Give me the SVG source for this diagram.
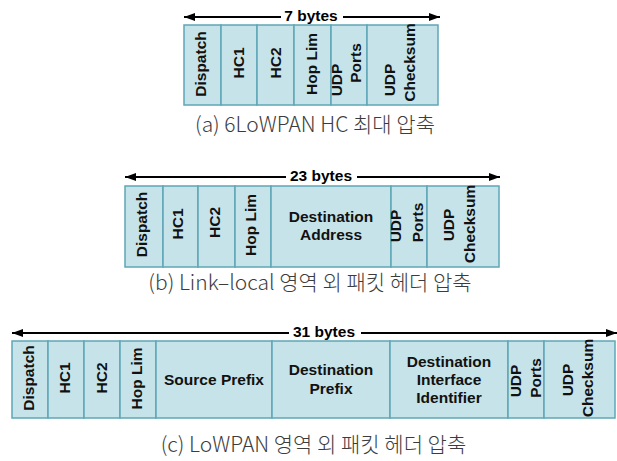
<svg xmlns="http://www.w3.org/2000/svg" width="617" height="461" viewBox="0 0 617 461">
  <style>
    .cell { fill: #c5e3e9; stroke: #5ea7b7; stroke-width: 1.5; }
    .lbl { font-family: "Liberation Sans", Arial, sans-serif; font-weight: bold; font-size: 15.5px; fill: #111; }
    .mid { text-anchor: middle; }
    .dim { stroke: #000; stroke-width: 2; fill: none; marker-end: url(#head); }
    .bytes { font-family: "Liberation Sans", Arial, sans-serif; font-weight: bold; font-size: 15.5px; fill: #000; text-anchor: middle; }
    .cap { font-family: "Noto Sans CJK KR", "Noto Sans", sans-serif; font-weight: 300; font-size: 21px; fill: #3c3c3c; text-anchor: middle; }
  </style>
  <defs>
    <marker id="head" viewBox="0 0 11 8" refX="11" refY="4" markerWidth="11" markerHeight="8" markerUnits="userSpaceOnUse" orient="auto">
      <path d="M0,0 L11,4 L0,8 Z" fill="#000"/>
    </marker>
  </defs>

  <!-- size arrows -->
  <g id="connectors">
    <line class="dim" x1="281" y1="17" x2="184" y2="17"/>
    <line class="dim" x1="343" y1="17" x2="440" y2="17"/>
    <line class="dim" x1="286" y1="177" x2="125" y2="177"/>
    <line class="dim" x1="357" y1="177" x2="500" y2="177"/>
    <line class="dim" x1="289" y1="333" x2="12" y2="333"/>
    <line class="dim" x1="361" y1="333" x2="617" y2="333"/>
  </g>

  <!-- (a) 6LoWPAN HC -->
  <g id="hc-max">
    <text class="bytes" x="311" y="21">7 bytes</text>
    <g id="a-dispatch"><rect class="cell" x="184" y="25" width="37" height="80"/>
      <text class="lbl mid" transform="translate(201,64) rotate(-90)" y="5">Dispatch</text></g>
    <g id="a-hc1"><rect class="cell" x="221" y="25" width="36" height="80"/>
      <text class="lbl mid" transform="translate(239,63) rotate(-90)" y="5">HC1</text></g>
    <g id="a-hc2"><rect class="cell" x="257" y="25" width="37" height="80"/>
      <text class="lbl mid" transform="translate(275.5,63) rotate(-90)" y="5">HC2</text></g>
    <g id="a-hoplim"><rect class="cell" x="294" y="25" width="37" height="80"/>
      <text class="lbl mid" transform="translate(311.5,64) rotate(-90)" y="5">Hop Lim</text></g>
    <g id="a-udp-ports"><rect class="cell" x="331" y="25" width="36" height="80"/>
      <text class="lbl mid" transform="translate(337,80) rotate(-90)" y="5">UDP</text>
      <text class="lbl mid" transform="translate(356,63) rotate(-90)" y="5">Ports</text></g>
    <g id="a-udp-checksum"><rect class="cell" x="367" y="25" width="71" height="80"/>
      <text class="lbl mid" transform="translate(390,80) rotate(-90)" y="5">UDP</text>
      <text class="lbl mid" transform="translate(410,62.5) rotate(-90)" y="5">Checksum</text></g>
    <text class="cap" x="315" y="132">(a) 6LoWPAN HC 최대 압축</text>
  </g>

  <!-- (b) link-local -->
  <g id="link-local">
    <text class="bytes" x="321" y="181">23 bytes</text>
    <g id="b-dispatch"><rect class="cell" x="125" y="186" width="38" height="81"/>
      <text class="lbl mid" transform="translate(142,224.5) rotate(-90)" y="5">Dispatch</text></g>
    <g id="b-hc1"><rect class="cell" x="163" y="186" width="35" height="81"/>
      <text class="lbl mid" transform="translate(178,224) rotate(-90)" y="5">HC1</text></g>
    <g id="b-hc2"><rect class="cell" x="198" y="186" width="37" height="81"/>
      <text class="lbl mid" transform="translate(215,222.5) rotate(-90)" y="5">HC2</text></g>
    <g id="b-hoplim"><rect class="cell" x="235" y="186" width="36" height="81"/>
      <text class="lbl mid" transform="translate(251,225) rotate(-90)" y="5">Hop Lim</text></g>
    <g id="b-dst-addr"><rect class="cell" x="271" y="186" width="120" height="81"/>
      <text class="lbl mid" x="331" y="222">Destination</text>
      <text class="lbl mid" x="331" y="239.5">Address</text></g>
    <g id="b-udp-ports"><rect class="cell" x="391" y="186" width="36" height="81"/>
      <text class="lbl mid" transform="translate(396,226) rotate(-90)" y="5">UDP</text>
      <text class="lbl mid" transform="translate(418,222.5) rotate(-90)" y="5">Ports</text></g>
    <g id="b-udp-checksum"><rect class="cell" x="427" y="186" width="72" height="81"/>
      <text class="lbl mid" transform="translate(449,225) rotate(-90)" y="5">UDP</text>
      <text class="lbl mid" transform="translate(470,224) rotate(-90)" y="5">Checksum</text></g>
    <text class="cap" x="310" y="290">(b) Link–local 영역 외 패킷 헤더 압축</text>
  </g>

  <!-- (c) LoWPAN external -->
  <g id="lowpan-ext">
    <text class="bytes" x="324" y="337">31 bytes</text>
    <g id="c-dispatch"><rect class="cell" x="12" y="341" width="36" height="77"/>
      <text class="lbl mid" transform="translate(29,378) rotate(-90)" y="5">Dispatch</text></g>
    <g id="c-hc1"><rect class="cell" x="48" y="341" width="36" height="77"/>
      <text class="lbl mid" transform="translate(65,378) rotate(-90)" y="5">HC1</text></g>
    <g id="c-hc2"><rect class="cell" x="84" y="341" width="36" height="77"/>
      <text class="lbl mid" transform="translate(102,378) rotate(-90)" y="5">HC2</text></g>
    <g id="c-hoplim"><rect class="cell" x="120" y="341" width="36" height="77"/>
      <text class="lbl mid" transform="translate(136.5,378.5) rotate(-90)" y="5">Hop Lim</text></g>
    <g id="c-src-prefix"><rect class="cell" x="156" y="341" width="116" height="77"/>
      <text class="lbl mid" x="214" y="385">Source Prefix</text></g>
    <g id="c-dst-prefix"><rect class="cell" x="272" y="341" width="118" height="77"/>
      <text class="lbl mid" x="331" y="375">Destination</text>
      <text class="lbl mid" x="331" y="393.5">Prefix</text></g>
    <g id="c-dst-iid"><rect class="cell" x="390" y="341" width="118" height="77"/>
      <text class="lbl mid" x="449" y="367">Destination</text>
      <text class="lbl mid" x="449" y="384.5">Interface</text>
      <text class="lbl mid" x="449" y="402.5">Identifier</text></g>
    <g id="c-udp-ports"><rect class="cell" x="508" y="341" width="36" height="77"/>
      <text class="lbl mid" transform="translate(516,381) rotate(-90)" y="5">UDP</text>
      <text class="lbl mid" transform="translate(536,378) rotate(-90)" y="5">Ports</text></g>
    <g id="c-udp-checksum"><rect class="cell" x="544" y="341" width="71" height="77"/>
      <text class="lbl mid" transform="translate(568,380) rotate(-90)" y="5">UDP</text>
      <text class="lbl mid" transform="translate(588,378) rotate(-90)" y="5">Checksum</text></g>
    <text class="cap" x="313.5" y="452">(c) LoWPAN 영역 외 패킷 헤더 압축</text>
  </g>
</svg>
